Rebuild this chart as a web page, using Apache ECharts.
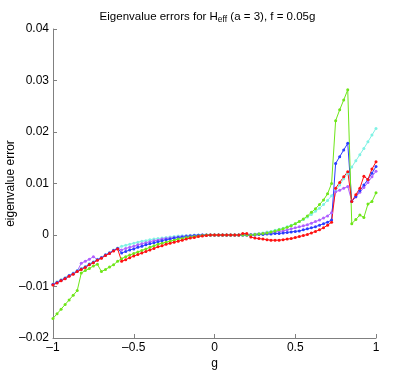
<!DOCTYPE html>
<html>
<head>
<meta charset="utf-8">
<script src="https://cdn.jsdelivr.net/npm/echarts@6.0.0/dist/echarts.min.js"></script>
<style>
  html, body { margin: 0; padding: 0; background: #fff; }
  #chart { width: 415px; height: 381px; }
</style>
</head>
<body>
<div id="chart"></div>
<script>
// g values (x axis), step 0.025
var gVals = [
  -1, -0.975, -0.95, -0.925, -0.9, -0.875, -0.85, -0.825, -0.8, -0.775,
  -0.75, -0.725, -0.7, -0.675, -0.65, -0.625, -0.6, -0.575, -0.55, -0.525,
  -0.5, -0.475, -0.45, -0.425, -0.4, -0.375, -0.35, -0.325, -0.3, -0.275,
  -0.25, -0.225, -0.2, -0.175, -0.15, -0.125, -0.1, -0.075, -0.05, -0.025,
  0, 0.025, 0.05, 0.075, 0.1, 0.125, 0.15, 0.175, 0.2, 0.225,
  0.25, 0.275, 0.3, 0.325, 0.35, 0.375, 0.4, 0.425, 0.45, 0.475,
  0.5, 0.525, 0.55, 0.575, 0.6, 0.625, 0.65, 0.675, 0.7, 0.725,
  0.75, 0.775, 0.8, 0.825, 0.85, 0.875, 0.9, 0.925, 0.95, 0.975, 1
];

var cyanErr = [
  -0.0095,-0.0091,-0.0087,-0.0083,-0.0078,-0.0074,-0.0069,-0.0065,-0.0061,-0.0056,-0.0052,-0.0047,-0.0043,-0.0038,-0.0034,-0.0029,-0.0025,
  -0.0022,-0.0020,-0.0018,-0.0016,-0.0014,-0.0012,-0.0011,-0.0009,-0.0008,-0.0007,-0.0006,-0.0005,-0.0004,-0.0003,-0.0002,-0.00015,-0.0001,-0.00005,0,0,0,0,0,0,
  0,0,0,0,0,0,0,0,
  0.0001,0.0002,0.0003,0.0004,0.0006,0.0007,0.0009,0.0011,0.0013,0.0016,0.0019,0.0022,0.0026,0.0030,0.0035,0.0040,
  0.0046,0.0052,0.0059,0.0067,0.0076,0.0086,0.0097,0.0109,0.0120,0.0132,0.0144,0.0156,0.0168,0.0181,0.0194,0.0207
];
var purpleErr = [
  -0.0096,-0.0092,-0.0088,-0.0084,-0.0079,-0.0075,-0.0070,-0.0055,-0.0051,-0.0047,-0.0042,-0.0048,-0.0044,-0.0039,-0.0035,-0.0030,-0.0026,
  -0.0029,-0.0026,-0.0024,-0.0022,-0.0019,-0.0017,-0.0015,-0.0013,-0.0011,-0.0010,-0.0008,-0.0007,-0.0006,-0.0005,-0.0004,-0.0003,-0.0002,-0.00015,-0.0001,-0.00005,0,0,0,0,
  0,0,0,0,0,0,0,0,
  0.0001,0.0001,0.0002,0.0003,0.0004,0.0005,0.0006,0.0007,0.0008,0.0010,0.0012,0.0014,0.0016,0.0018,0.0020,0.0023,
  0.0026,0.0029,0.0033,0.0037,0.0043,0.0084,0.0087,0.0091,0.0094,0.0066,0.0074,0.0083,0.0092,0.0102,0.0113,0.0124
];
var blueErr = [
  -0.0096,-0.0092,-0.0088,-0.0084,-0.0079,-0.0075,-0.0070,-0.0066,-0.0062,-0.0057,-0.0053,-0.0048,-0.0044,-0.0039,-0.0035,-0.0030,-0.0026,
  -0.0035,-0.0032,-0.0029,-0.0027,-0.0024,-0.0022,-0.0019,-0.0017,-0.0015,-0.0013,-0.0011,-0.0009,-0.0008,-0.0006,-0.0005,-0.0004,-0.0003,-0.0002,-0.0001,-0.00005,0,0,0,0,
  0,0,0,0,0,0,0,0,
  0,0,0.0001,0.0001,0.0002,0.0002,0.0003,0.0003,0.0004,0.0005,0.0006,0.0007,0.0008,0.0010,0.0012,0.0014,
  0.0016,0.0019,0.0022,0.0025,0.0029,0.0139,0.0152,0.0165,0.0178,0.0065,0.0075,0.0086,0.0097,0.0108,0.0120,0.0133
];
var greenErr = [
  -0.0162,-0.0153,-0.0144,-0.0135,-0.0126,-0.0117,-0.0108,-0.0074,-0.0069,-0.0065,-0.0060,-0.0057,-0.0071,-0.0067,-0.0062,-0.0058,-0.0051,
  -0.0046,-0.0042,-0.0039,-0.0036,-0.0033,-0.0030,-0.0027,-0.0024,-0.0021,-0.0018,-0.0016,-0.0014,-0.0012,-0.0010,-0.0008,-0.0007,-0.0005,-0.0004,-0.0003,-0.0002,-0.0001,0,0,0,
  0,0,0,0,0,0,0,0,
  0,0.0001,0.0002,0.0003,0.0004,0.0006,0.0008,0.0010,0.0012,0.0015,0.0018,0.0022,0.0026,0.0031,0.0037,0.0044,
  0.0051,0.0059,0.0068,0.0080,0.0100,0.0222,0.0243,0.0262,0.0282,0.0022,0.0030,0.0039,0.0034,0.0060,0.0065,0.0082
];
var redErr = [
  -0.0097,-0.0093,-0.0089,-0.0085,-0.0080,-0.0076,-0.0071,-0.0067,-0.0063,-0.0058,-0.0054,-0.0049,-0.0045,-0.0040,-0.0036,-0.0031,-0.0027,
  -0.0051,-0.0048,-0.0044,-0.0041,-0.0038,-0.0035,-0.0032,-0.0029,-0.0026,-0.0023,-0.0021,-0.0018,-0.0016,-0.0014,-0.0012,-0.0010,-0.0008,-0.0006,-0.0005,-0.0003,-0.0002,-0.0001,0,0,
  0,0,0,0,0,0,0.0003,0.0003,
  -0.0004,-0.0006,-0.0007,-0.0008,-0.0009,-0.0010,-0.0010,-0.0010,-0.0009,-0.0008,-0.0007,-0.0005,-0.0003,-0.0001,0.0001,0.0004,
  0.0007,0.0010,0.0014,0.0019,0.0025,0.0091,0.0102,0.0113,0.0123,0.0065,0.0078,0.0091,0.0114,0.0108,0.0128,0.0142
];

var yTicks = [-0.02, -0.01, 0, 0.01, 0.02, 0.03, 0.04];
var xTicks = [-1, -0.5, 0, 0.5, 1];

function pairs(vals) {
  return gVals.map(function (g, i) { return [g, vals[i]]; });
}
function fmt(v) {
  if (Math.abs(v) < 1e-9) return '0';
  var s = String(Math.round(v * 1000) / 1000);
  return s.replace('-', '\u2013');
}

var font = 'Liberation Sans, Arial, Helvetica, sans-serif';
var seriesDefs = [
  { name: 'cyan', color: '#7ff2e4', data: cyanErr },
  { name: 'purple', color: '#b060ff', data: purpleErr },
  { name: 'blue', color: '#2a3cff', data: blueErr },
  { name: 'green', color: '#6ee619', data: greenErr },
  { name: 'red', color: '#ff1010', data: redErr }
];

var chart = echarts.init(document.getElementById('chart'));
chart.setOption({
  animation: false,
  backgroundColor: '#fff',
  title: {
    text: '{t|Eigenvalue errors for H}{s|eff}{t| (a = 3), f = 0.05g}',
    left: 'center',
    top: 4,
    textStyle: {
      fontWeight: 'normal',
      rich: {
        t: { fontFamily: font, fontSize: 11.5, fontWeight: 'normal', color: '#000', lineHeight: 16 },
        s: { fontFamily: font, fontSize: 8.5, fontWeight: 'normal', color: '#000', lineHeight: 16, padding: [6, 0, 0, 0] }
      }
    }
  },
  grid: { left: 53, right: 39, top: 29, bottom: 43, outerBoundsMode: 'none', containLabel: false },
  xAxis: {
    type: 'value',
    min: -1, max: 1, interval: 0.5,
    name: 'g',
    nameLocation: 'middle',
    nameGap: 20,
    nameMoveOverlap: false,
    nameTextStyle: { fontFamily: font, fontSize: 12, color: '#000' },
    axisLine: { onZero: false, lineStyle: { color: '#808080' } },
    axisTick: { inside: true, length: 4, lineStyle: { color: '#808080' } },
    axisLabel: { fontFamily: font, fontSize: 12, color: '#000', margin: 4, formatter: fmt },
    splitLine: { show: false }
  },
  yAxis: {
    type: 'value',
    min: -0.02, max: 0.04, interval: 0.01,
    name: 'eigenvalue error',
    nameLocation: 'middle',
    nameGap: 36,
    nameMoveOverlap: false,
    nameTextStyle: { fontFamily: font, fontSize: 12, color: '#000' },
    axisLine: { show: true, onZero: false, lineStyle: { color: '#808080' } },
    axisTick: { show: true, inside: true, length: 4, lineStyle: { color: '#808080' } },
    axisLabel: { fontFamily: font, fontSize: 12, color: '#000', margin: 4, formatter: fmt },
    splitLine: { show: false }
  },
  series: seriesDefs.map(function (s) {
    return {
      name: s.name,
      type: 'line',
      data: pairs(s.data),
      symbol: 'circle',
      symbolSize: 3,
      showSymbol: true,
      color: s.color,
      lineStyle: { width: 1, color: s.color },
      itemStyle: { color: s.color }
    };
  })
});
</script>
</body>
</html>
